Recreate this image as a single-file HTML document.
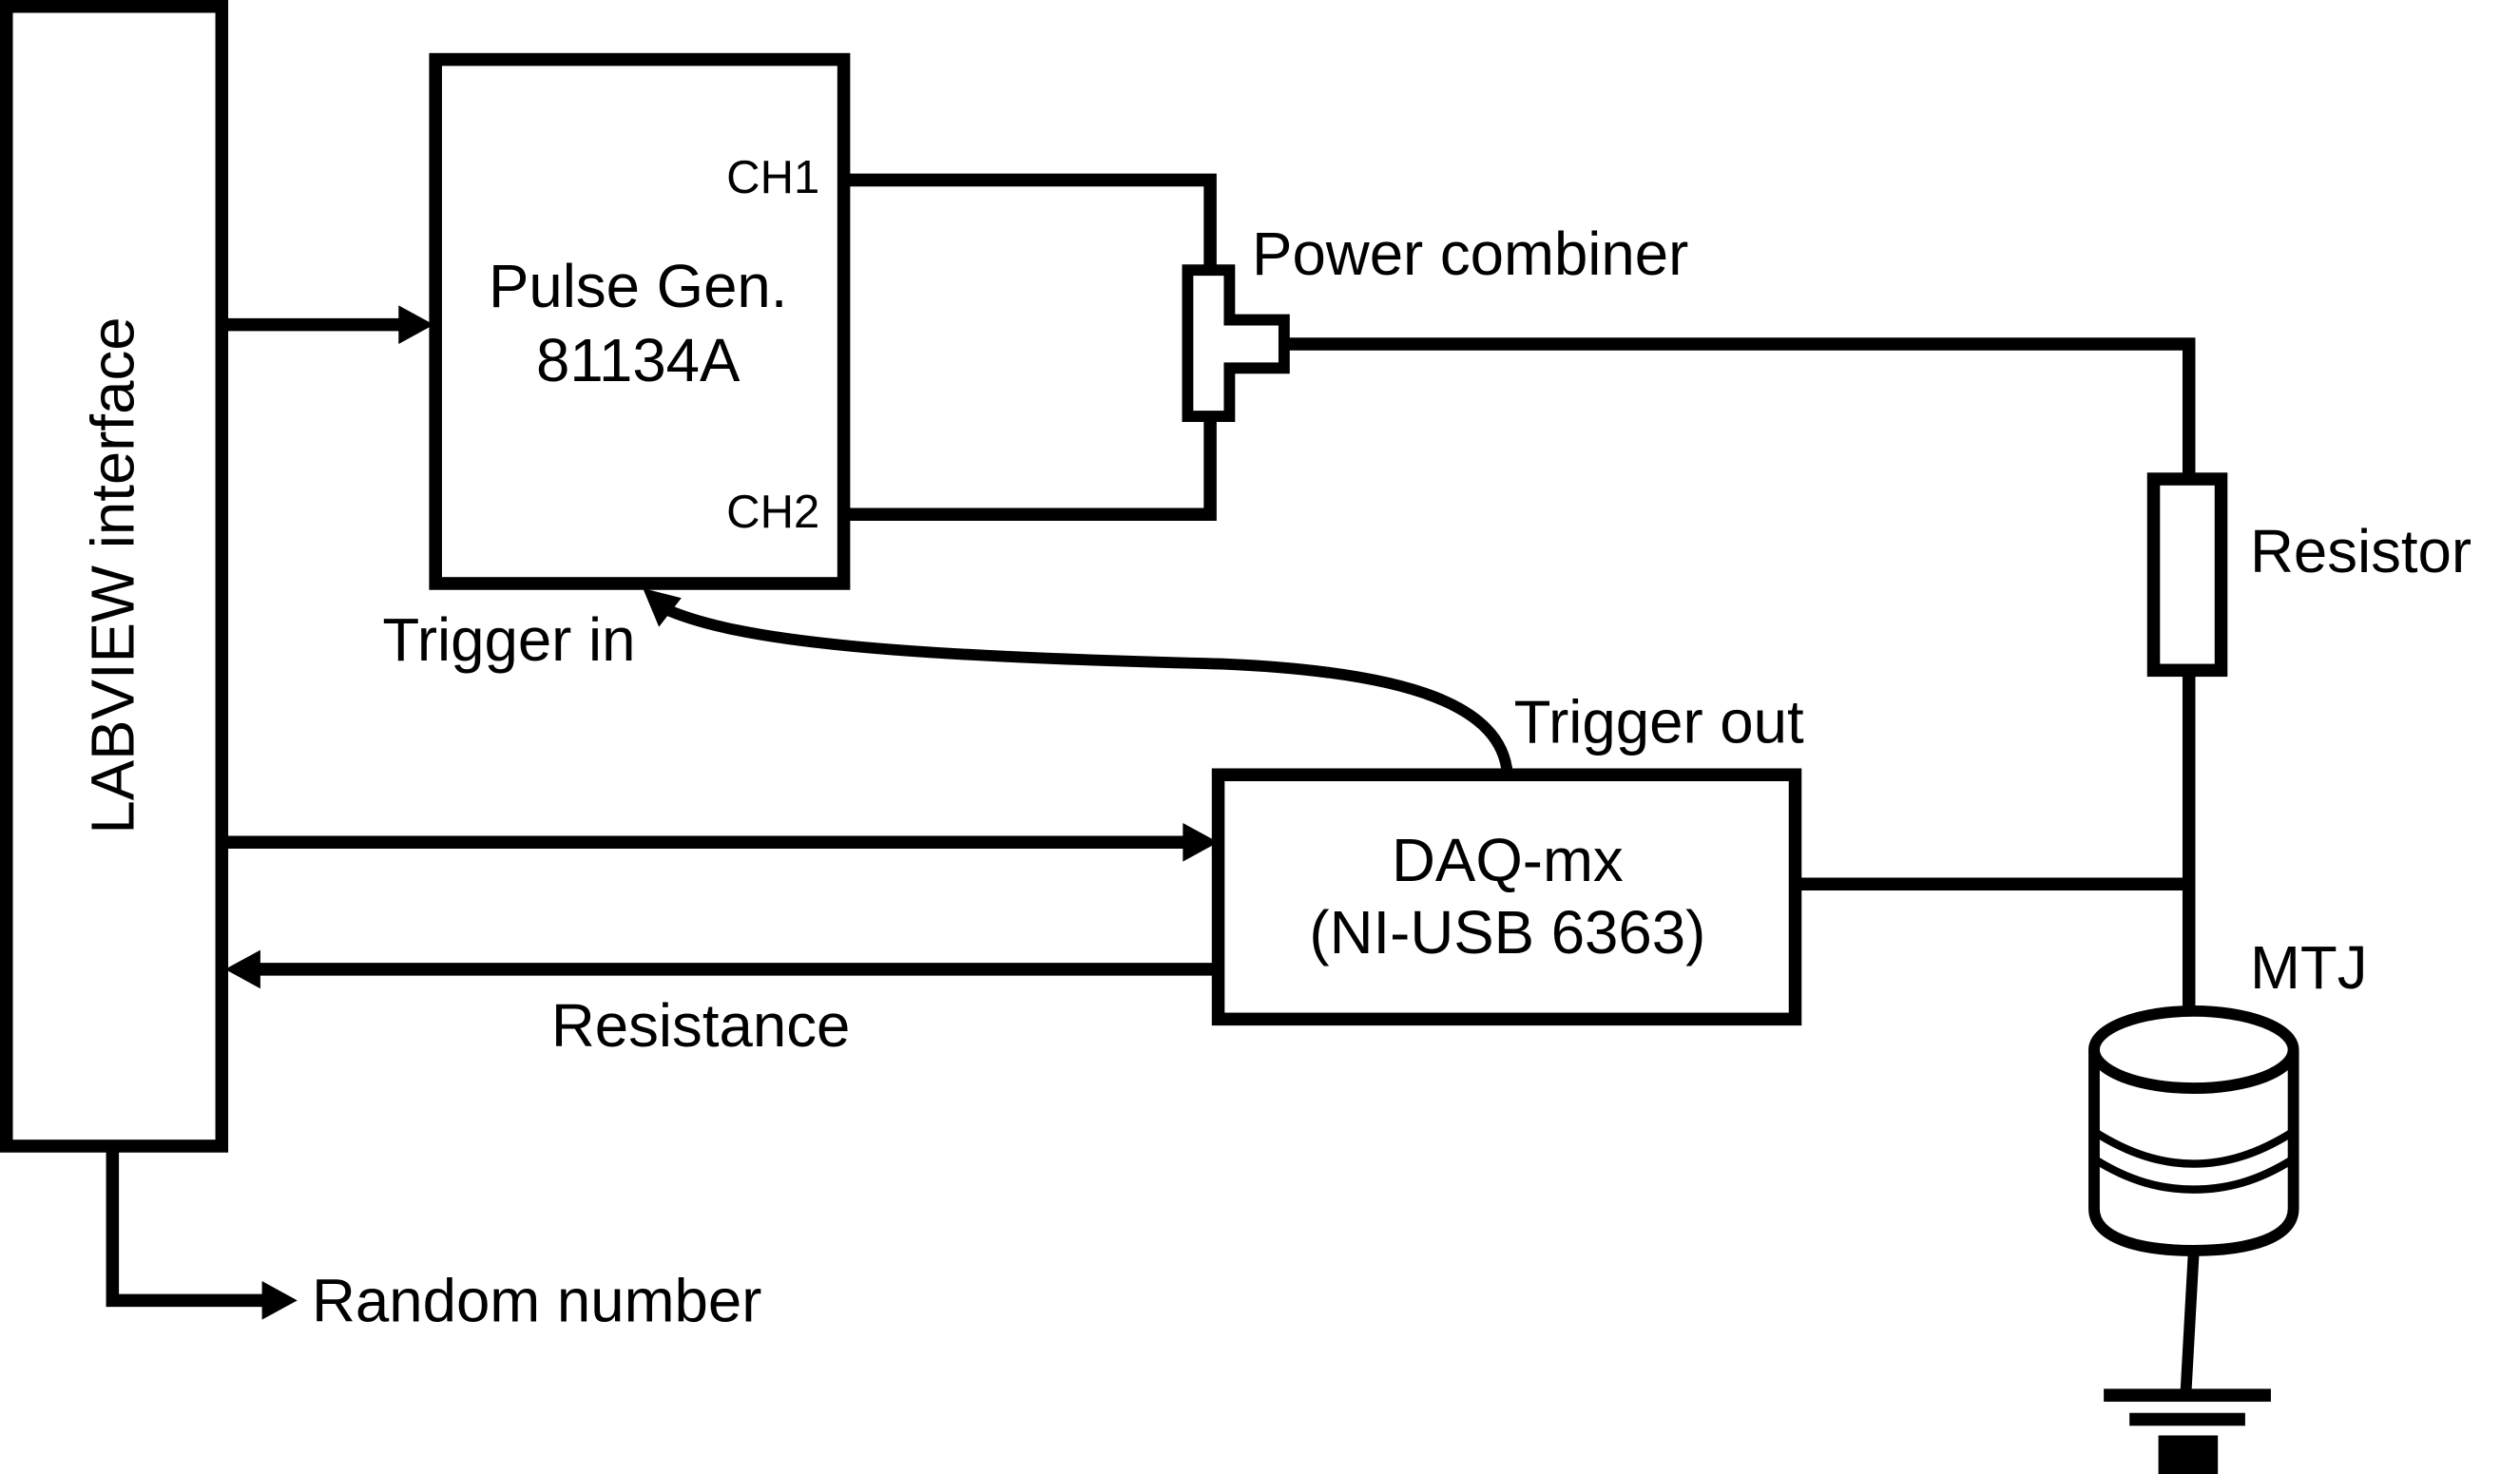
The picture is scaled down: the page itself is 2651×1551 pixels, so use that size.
<!DOCTYPE html>
<html><head><meta charset="utf-8"><style>
html,body{margin:0;padding:0;background:#fff;}
svg{display:block;}
text{font-family:"Liberation Sans",sans-serif;fill:#000;}
</style></head><body>
<svg width="2651" height="1551" viewBox="0 0 1568 917" preserveAspectRatio="none" xmlns="http://www.w3.org/2000/svg">
<g fill="none" stroke="#000" stroke-width="8">
<rect x="4" y="4" width="134" height="709"/>
<rect x="271" y="37" width="254" height="326"/>
<rect x="758" y="482" width="359" height="152"/>
<line x1="138" y1="202" x2="250" y2="202"/>
<line x1="138" y1="524" x2="740" y2="524"/>
<line x1="758" y1="603" x2="158" y2="603"/>
<polyline points="70,713 70,809 165,809"/>
<polyline points="525,112 753,112 753,166"/>
<polyline points="525,320 753,320 753,261"/>
<path d="M739,168 H765 V199 H799 V229 H765 V259 H739 Z" stroke-width="7"/>
<polyline points="799,214 1362,214 1362,298"/>
<rect x="1340" y="298" width="42" height="119"/>
<line x1="1362" y1="417" x2="1362" y2="630"/>
<line x1="1117" y1="550" x2="1362" y2="550"/>
<path d="M938,482 C935,440 880,418 760,413 C560,408 460,400 412,378" stroke-width="7"/>
<ellipse cx="1365" cy="653" rx="62" ry="24" stroke-width="7"/>
<path d="M1303,653 V752 C1303,770 1330,778 1365,778 C1400,778 1427,770 1427,752 V653" stroke-width="7"/>
<path d="M1303,704 C1325,718 1345,724 1365,724 C1385,724 1405,718 1427,704" stroke-width="5"/>
<path d="M1303,721 C1325,735 1345,740 1365,740 C1385,740 1405,735 1427,721" stroke-width="5"/>
<line x1="1365" y1="778" x2="1360" y2="868" stroke-width="7"/>
</g>
<g fill="#000">
<polygon points="248,190 270,202 248,214"/>
<polygon points="736,512 758,524 736,536"/>
<polygon points="162,591 140,603 162,615"/>
<polygon points="163,797 185,809 163,821"/>
<polygon points="400,366 424,372 410,390"/>
<rect x="1309" y="864" width="104" height="8"/>
<rect x="1325" y="879" width="72" height="8"/>
<rect x="1343" y="893" width="37" height="24"/>
</g>
<g font-size="37.6">
<text x="0" y="0" text-anchor="middle" transform="translate(83,358) rotate(-90)">LABVIEW interface</text>
<text x="397" y="191" text-anchor="middle">Pulse Gen.</text>
<text x="397" y="237" text-anchor="middle">81134A</text>
<text x="238" y="411">Trigger in</text>
<text x="942" y="462">Trigger out</text>
<text x="779" y="171">Power combiner</text>
<text x="1400" y="356">Resistor</text>
<text x="1400" y="615">MTJ</text>
<text x="938" y="548" text-anchor="middle">DAQ-mx</text>
<text x="938" y="593" text-anchor="middle">(NI-USB 6363)</text>
<text x="343" y="651">Resistance</text>
<text x="194" y="822">Random number</text>
</g>
<text x="510" y="120" font-size="29" text-anchor="end">CH1</text>
<text x="510" y="328" font-size="29" text-anchor="end">CH2</text>
</svg>
</body></html>
